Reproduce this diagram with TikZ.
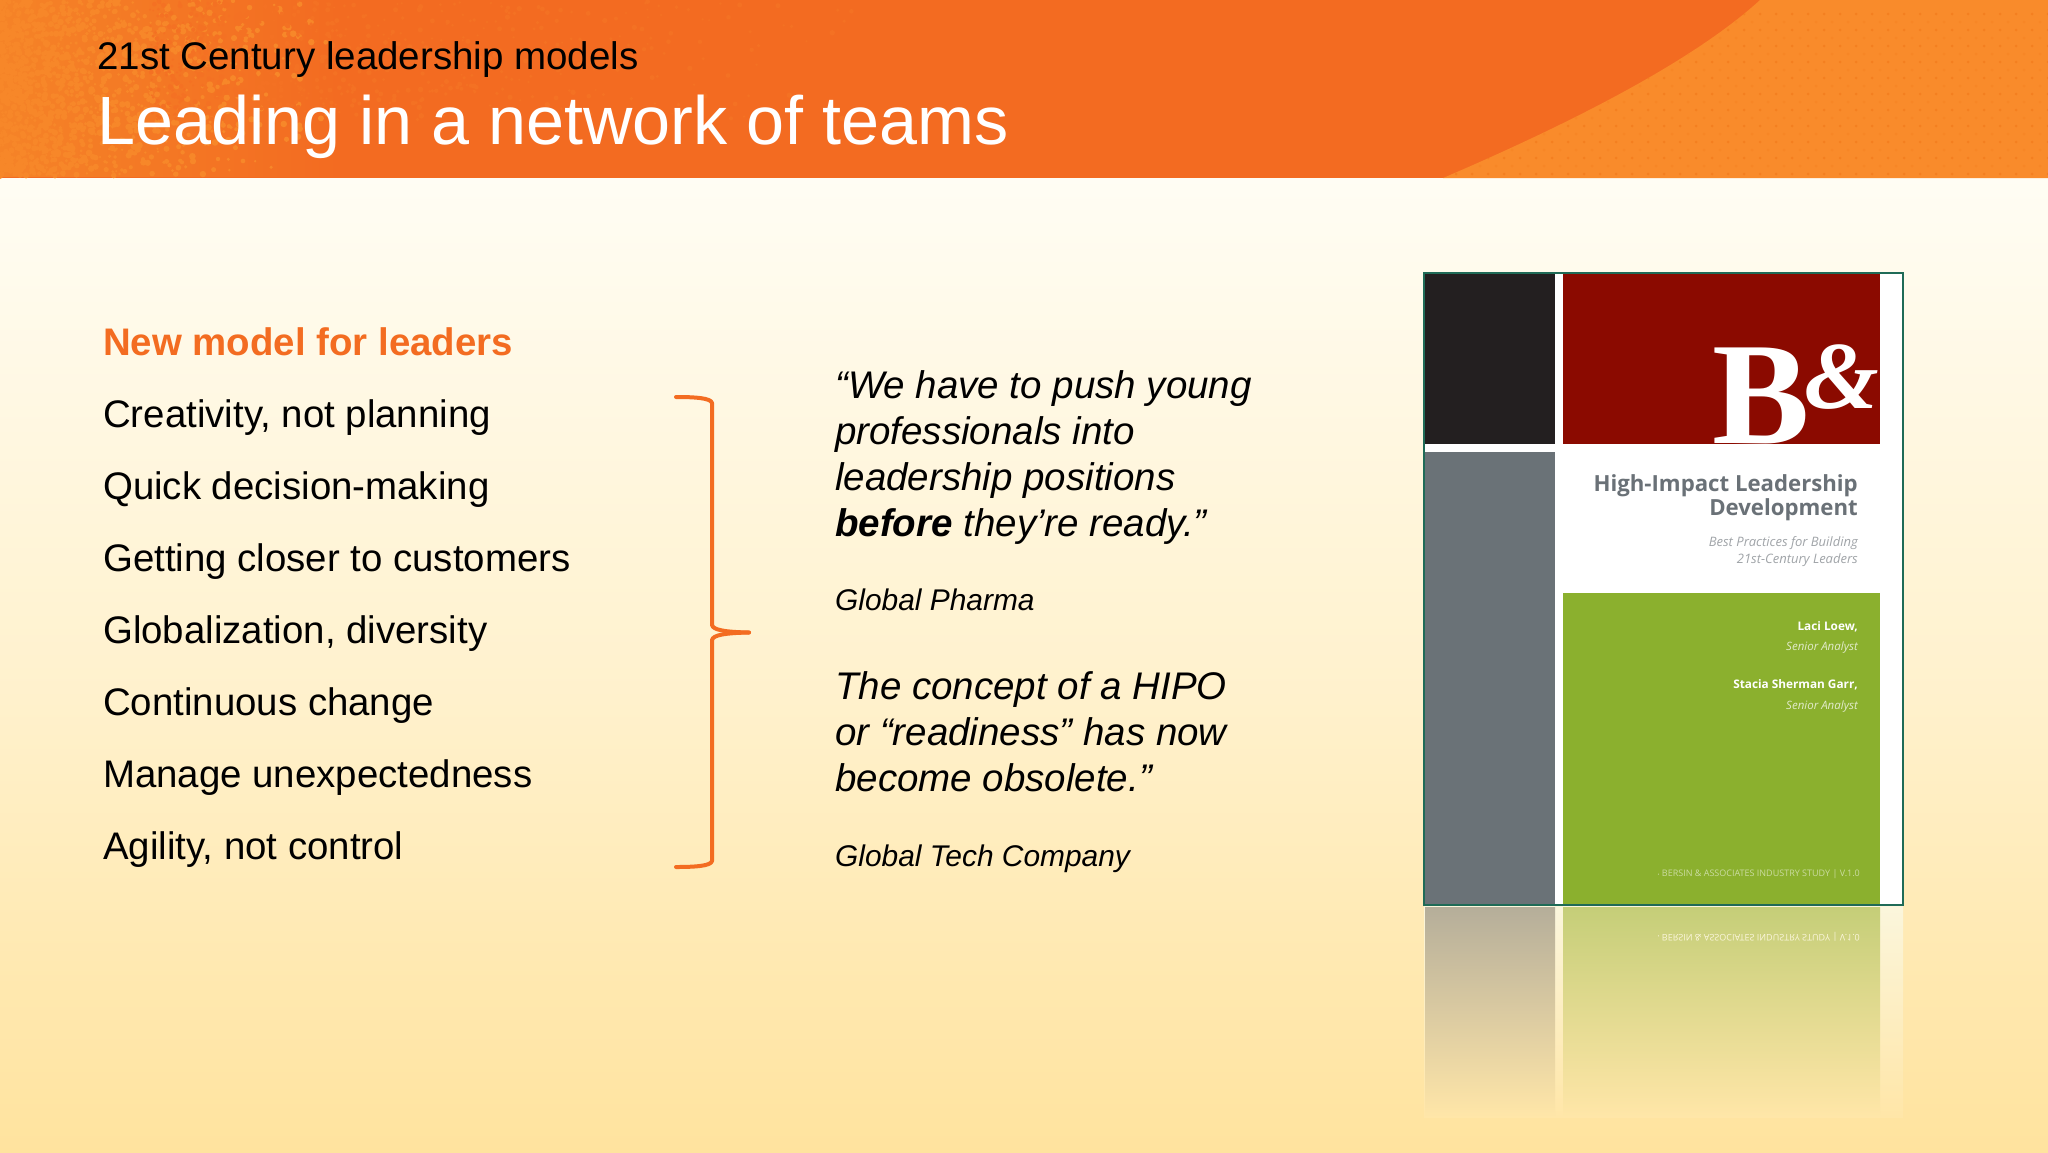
\documentclass[tikz,border=0pt]{standalone}
\usepackage{fontspec}
\setmainfont{Liberation Sans}
\newfontfamily\bookfont{Open Sans}
\newfontfamily\logofont{Liberation Serif}
\usetikzlibrary{calc}
\definecolor{hdrmain}{HTML}{F36B21}
\definecolor{hdrlight}{HTML}{F98B2B}
\definecolor{hdrdot}{HTML}{F47F20}
\definecolor{hdrleft}{HTML}{F58327}
\definecolor{bgtop}{HTML}{FFFDF4}
\definecolor{bgmid}{HTML}{FFF1CC}
\definecolor{bgbot}{HTML}{FFE39E}
\definecolor{reflbot}{HTML}{FFE6A8}
\definecolor{bookdark}{HTML}{231F20}
\definecolor{bookred}{HTML}{8B0A00}
\definecolor{bookgray}{HTML}{6A7277}
\definecolor{bookgreen}{HTML}{8BB02E}
\definecolor{bookline}{HTML}{1F6B57}
\definecolor{booktext}{HTML}{6A7177}
\definecolor{booksub}{HTML}{A0A4A8}
\definecolor{brace}{HTML}{F36C21}
\definecolor{reflgray}{HTML}{B5AE9A}
\definecolor{reflgreen}{HTML}{C5CE78}
\definecolor{reflwhite}{HTML}{FBF6DC}
\tikzset{
  x=1pt,y=-1pt,
  listitem/.style={anchor=base west,inner sep=0pt,font=\fontsize{38.4}{38.4}\selectfont,text=black},
  listhead/.style={listitem,font=\fontsize{38.4}{38.4}\selectfont\bfseries,text=brace},
  quotebox/.style={anchor=base west,inner sep=0pt,align=left,font=\fontsize{38.5}{46}\selectfont\itshape,text=black},
  source/.style={anchor=base west,inner sep=0pt,font=\fontsize{29.9}{30}\selectfont\itshape,text=black},
  booktitle/.style={anchor=base east,inner sep=0pt,text=booktext,font=\bookfont\bfseries\fontsize{22.2}{24}\selectfont},
  booksubt/.style={anchor=base east,inner sep=0pt,text=booksub,font=\bookfont\itshape\fontsize{13}{14}\selectfont},
  bookname/.style={anchor=base east,inner sep=0pt,text=white,font=\bookfont\bfseries\fontsize{11.8}{13}\selectfont},
  bookrole/.style={anchor=base east,inner sep=0pt,text=white!75!bookgreen,font=\bookfont\itshape\fontsize{11.5}{13}\selectfont},
  bookfoot/.style={anchor=base east,inner sep=0pt,text=white!55!bookgreen,font=\bookfont\fontsize{9}{10}\selectfont},
  bracestroke/.style={draw=brace,line width=4pt,line cap=round,line join=round}
}
\begin{document}
\begin{tikzpicture}
\useasboundingbox (0,0) rectangle (2048,1152);
% background
\shade[top color=bgtop,bottom color=bgmid] (0,177) rectangle (2048,700);
\shade[top color=bgmid,bottom color=bgbot] (0,700) rectangle (2048,1152);
% header
\begin{scope}
\clip (0,0) rectangle (2048,178);
\fill[hdrmain] (0,0) rectangle (2048,178);
\shade[left color=hdrleft,right color=hdrmain] (0,0) rectangle (340,176);
\pgfmathsetseed{7}
\foreach \i in {1,...,1500}{
  \pgfmathsetmacro{\px}{340*rnd*rnd}
  \pgfmathsetmacro{\py}{176*rnd}
  \pgfmathsetmacro{\pr}{1.2+2.2*rnd}
  \fill[hdrlight!45!hdrleft] (\px,\py) circle (\pr);
}
\foreach \i in {1,...,700}{
  \pgfmathsetmacro{\px}{150+750*rnd*rnd}
  \pgfmathsetmacro{\py}{120*rnd}
  \pgfmathsetmacro{\pr}{1+1.8*rnd}
  \fill[hdrlight!18!hdrmain] (\px,\py) circle (\pr);
}
% right lighter band
\fill[hdrlight] (1760,0) .. controls (1700,55) and (1590,115) .. (1443,178) -- (2048,178) -- (2048,0) -- cycle;
\clip (1760,0) .. controls (1700,55) and (1590,115) .. (1443,178) -- (2048,178) -- (2048,0) -- cycle;
\foreach \dx in {1440,1456,...,2048}{
  \foreach \dy in {14,30,...,178}{
    \fill[hdrdot] (\dx,\dy) circle (1.5);
    \fill[hdrdot!45!hdrlight] (\dx+8,\dy+8) circle (1.5);
  }
}
\end{scope}
% titles
\node[anchor=base west,inner sep=0pt,text=black,font=\fontsize{38.5}{38.5}\selectfont] (kicker) at (97,69) {21st Century leadership models};
\node[anchor=base west,inner sep=0pt,text=white,font=\fontsize{68.3}{68.3}\selectfont] (title) at (97,144) {Leading in a network of teams};
% list
\node[listhead] (h) at (103,355.5) {New model for leaders};
\node[listitem] (l1) at (103,427.5) {Creativity, not planning};
\node[listitem] (l2) at (103,499.5) {Quick decision-making};
\node[listitem] (l3) at (103,571.5) {Getting closer to customers};
\node[listitem] (l4) at (103,643.5) {Globalization, diversity};
\node[listitem] (l5) at (103,715.5) {Continuous change};
\node[listitem] (l6) at (103,787.5) {Manage unexpectedness};
\node[listitem] (l7) at (103,859.5) {Agility, not control};
% brace
\coordinate (bracetip) at (749,632.5);
\draw[bracestroke] (676,397) .. controls (695,397) and (711,398) .. (712,403) -- (712,625) .. controls (713,630) and (725,632) .. (bracetip);
\draw[bracestroke] (676,867) .. controls (695,867) and (711,866) .. (712,861) -- (712,640) .. controls (713,635) and (725,633) .. (bracetip);
% quotes
\node[quotebox] (q1) at (835,536.5) {“We have to push young\\professionals into\\leadership positions\\{\bfseries before} they’re ready.”};
\node[source] (s1) at (835,610.5) {Global Pharma};
\node[quotebox] (q2) at (835,791) {The concept of a HIPO\\or “readiness” has now\\become obsolete.”};
\node[source] (s2) at (835,866.5) {Global Tech Company};
% reflection
\shade[top color=reflwhite,bottom color=reflbot] (1424,906) rectangle (1903,1117);
\shade[top color=reflgray,bottom color=reflbot] (1425,907) rectangle (1555,1117);
\shade[top color=reflgreen,bottom color=reflbot] (1563,907) rectangle (1880,1117);
\node[bookfoot,text=reflwhite,yscale=-1,transform shape] (reffoot) at (1860,934) {{\tiny\textbullet} BERSIN \& ASSOCIATES INDUSTRY STUDY | V.1.0};
% book
\fill[white] (1424,273) rectangle (1903,905);
\fill[bookdark] (1425,274) rectangle (1555,444);
\fill[bookred] (1563,274) rectangle (1880,444);
\fill[bookgray] (1425,452) rectangle (1555,905);
\fill[bookgreen] (1563,593) rectangle (1880,905);
\begin{scope}
\clip (1563,274) rectangle (1880,448);
\node[anchor=base,inner sep=0pt,text=white,font=\logofont\bfseries\fontsize{146}{146}\selectfont] (logob) at (1761,443) {B};
\node[anchor=base,inner sep=0pt,text=white,font=\logofont\bfseries\itshape\fontsize{96}{96}\selectfont] (logoa) at (1842,408) {\&};
\end{scope}
\draw[bookline,line width=1.4pt] (1424,273) rectangle (1903,905);
\node[booktitle] (bt1) at (1858,491) {High-Impact Leadership};
\node[booktitle] (bt2) at (1858,515) {Development};
\node[booksubt] (bs1) at (1858,546) {Best Practices for Building};
\node[booksubt] (bs2) at (1858,563) {21st-Century Leaders};
\node[bookname] (bn1) at (1858,630) {Laci Loew,};
\node[bookrole] (br1) at (1858,650) {Senior Analyst};
\node[bookname] (bn2) at (1858,688.5) {Stacia Sherman Garr,};
\node[bookrole] (br2) at (1858,709) {Senior Analyst};
\node[bookfoot] (bf) at (1860,876) {{\tiny\textbullet} BERSIN \& ASSOCIATES INDUSTRY STUDY | V.1.0};
\end{tikzpicture}
\end{document}
